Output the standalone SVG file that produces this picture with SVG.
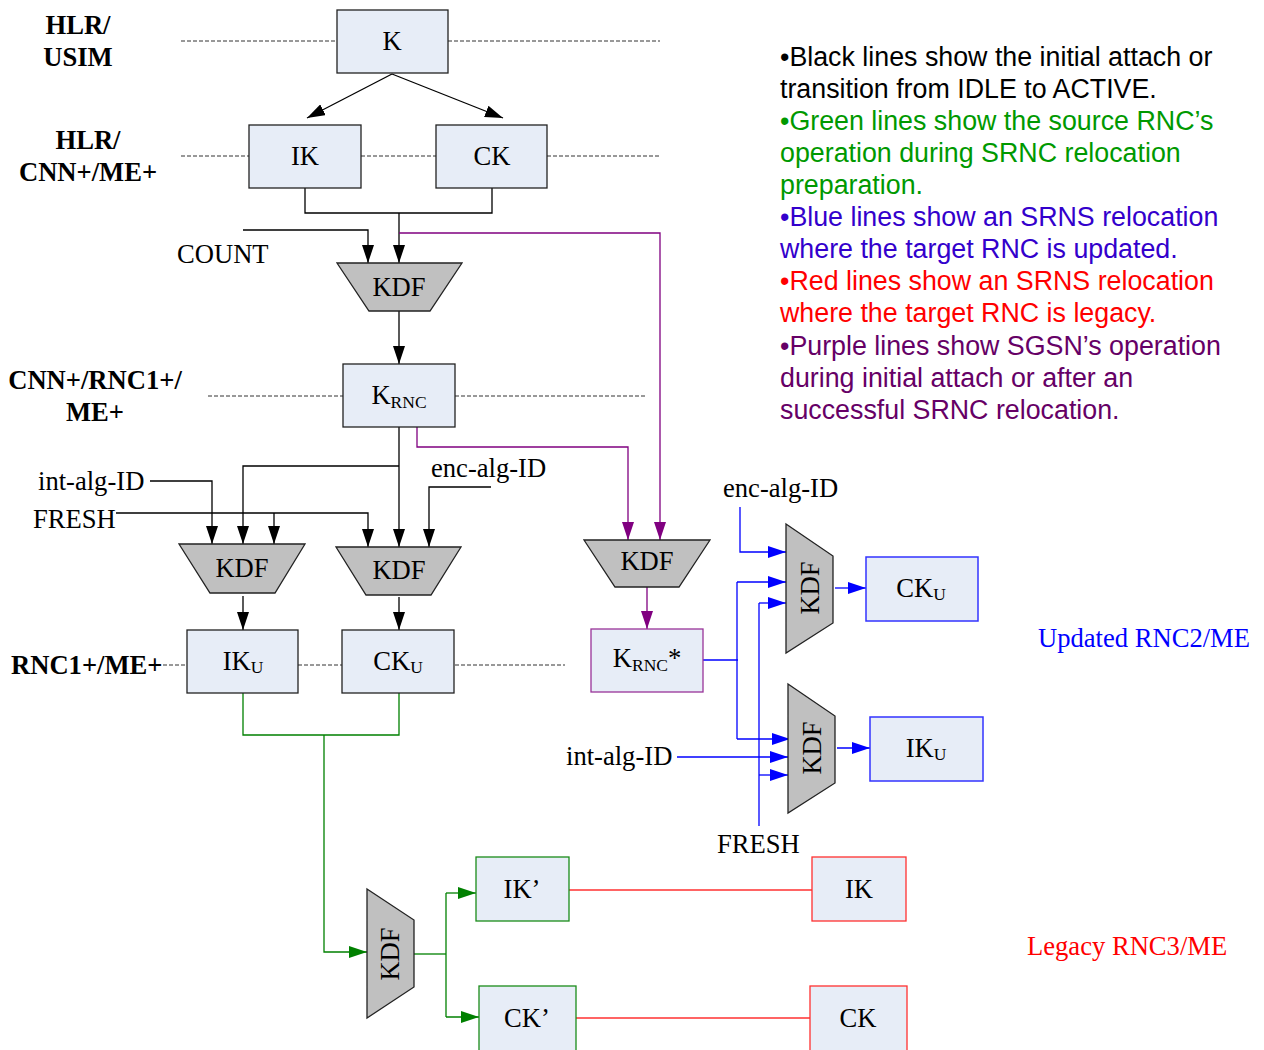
<svg xmlns="http://www.w3.org/2000/svg" width="1264" height="1050" viewBox="0 0 1264 1050">
<style>
.box{fill:#e7edf7;stroke:#222;stroke-width:1.3}
.kdf{fill:#c0c0c0;stroke:#222;stroke-width:1.3}
.t{font-family:"Liberation Serif","Times New Roman",serif;font-size:26.6px;fill:#000}
.tb{font-family:"Liberation Serif","Times New Roman",serif;font-size:26.6px;font-weight:bold;fill:#000}
.lg{font-family:"Liberation Sans",Arial,sans-serif;font-size:26.8px}
.c{text-anchor:middle}
.dash{stroke:#333;stroke-width:1;stroke-dasharray:4,2;fill:none}
.k{stroke:#000;stroke-width:1.3;fill:none}
.p{stroke:#800080;stroke-width:1.3;fill:none}
.bl{stroke:#0000ff;stroke-width:1.3;fill:none}
.g{stroke:#008000;stroke-width:1.3;fill:none}
.r{stroke:#ff3030;stroke-width:1.3;fill:none}
.ak{marker-end:url(#mk)}
.ap{marker-end:url(#mp)}
.ab{marker-end:url(#mb)}
.ag{marker-end:url(#mg)}
</style>
<defs>
<marker id="mk" markerUnits="userSpaceOnUse" markerWidth="18" markerHeight="12" refX="18" refY="6" orient="auto"><path d="M0,0 L18,6 L0,12 z" fill="#000"/></marker>
<marker id="mp" markerUnits="userSpaceOnUse" markerWidth="18" markerHeight="12" refX="18" refY="6" orient="auto"><path d="M0,0 L18,6 L0,12 z" fill="#800080"/></marker>
<marker id="mb" markerUnits="userSpaceOnUse" markerWidth="18" markerHeight="12" refX="18" refY="6" orient="auto"><path d="M0,0 L18,6 L0,12 z" fill="#0000ff"/></marker>
<marker id="mg" markerUnits="userSpaceOnUse" markerWidth="18" markerHeight="12" refX="18" refY="6" orient="auto"><path d="M0,0 L18,6 L0,12 z" fill="#008000"/></marker>
</defs>
<rect width="1264" height="1050" fill="#fff"/>

<g id="layers">
<path class="dash" d="M181,41 H337 M448,41 H660 M181,156 H249 M361,156 H436 M547,156 H660 M208,396 H343 M455,396 H647 M163,665 H187 M298,665 H342 M455,665 H565"/>
<text class="tb c" x="78" y="34">HLR/</text>
<text class="tb c" x="78" y="66">USIM</text>
<text class="tb c" x="88" y="149">HLR/</text>
<text class="tb c" x="88" y="181">CNN+/ME+</text>
<text class="tb c" x="95" y="389">CNN+/RNC1+/</text>
<text class="tb c" x="95" y="421">ME+</text>
<text class="tb" x="11" y="674">RNC1+/ME+</text>
</g>

<g id="connectors">
<line class="k ak" x1="392" y1="74" x2="307" y2="118"/>
<line class="k ak" x1="392" y1="74" x2="503" y2="118"/>
<polyline class="k" points="305,188 305,213 492,213 492,188"/>
<line class="k ak" x1="399" y1="213" x2="399" y2="263"/>
<polyline class="k ak" points="243,230 368,230 368,263"/>
<line class="k ak" x1="399" y1="311" x2="399" y2="364"/>
<line class="k ak" x1="399" y1="427" x2="399" y2="547"/>
<polyline class="k ak" points="399,466 243,466 243,544"/>
<polyline class="k ak" points="150,481 212,481 212,544"/>
<polyline class="k ak" points="116,513 368,513 368,547"/>
<line class="k ak" x1="274" y1="513" x2="274" y2="544"/>
<polyline class="k ak" points="491,487 429,487 429,547"/>
<line class="k ak" x1="243" y1="596" x2="243" y2="630"/>
<line class="k ak" x1="399" y1="597" x2="399" y2="630"/>

<polyline class="p ap" points="399,233 660,233 660,540"/>
<polyline class="p ap" points="417,427 417,447 628,447 628,540"/>
<line class="p ap" x1="647" y1="587" x2="647" y2="629"/>

<line class="bl" x1="703" y1="660" x2="738" y2="660"/>
<line class="bl" x1="737" y1="582" x2="737" y2="739"/>
<line class="bl ab" x1="737" y1="582" x2="786" y2="582"/>
<line class="bl ab" x1="737" y1="739" x2="790" y2="739"/>
<polyline class="bl ab" points="740,507 740,552 786,552"/>
<line class="bl" x1="759" y1="826" x2="759" y2="603"/>
<line class="bl ab" x1="759" y1="603" x2="786" y2="603"/>
<line class="bl ab" x1="759" y1="775" x2="788" y2="775"/>
<line class="bl ab" x1="677" y1="757" x2="788" y2="757"/>
<line class="bl ab" x1="835" y1="588" x2="866" y2="588"/>
<line class="bl ab" x1="837" y1="748" x2="870" y2="748"/>

<polyline class="g" points="243,693 243,735 399,735 399,693"/>
<polyline class="g ag" points="324,735 324,952 367,952"/>
<line class="g" x1="414" y1="954" x2="446" y2="954"/>
<line class="g" x1="446" y1="893" x2="446" y2="1017"/>
<line class="g ag" x1="446" y1="893" x2="476" y2="893"/>
<line class="g ag" x1="446" y1="1017" x2="479" y2="1017"/>

<line class="r" x1="569" y1="890" x2="812" y2="890"/>
<line class="r" x1="576" y1="1018" x2="810" y2="1018"/>
</g>

<g id="node-K"><rect class="box" x="337" y="10" width="111" height="63"/><text class="t c" x="392" y="50">K</text></g>
<g id="node-IK"><rect class="box" x="249" y="125" width="112" height="63"/><text class="t c" x="305" y="165">IK</text></g>
<g id="node-CK"><rect class="box" x="436" y="125" width="111" height="63"/><text class="t c" x="492" y="165">CK</text></g>
<g id="label-COUNT"><text class="t" x="177" y="263">COUNT</text></g>
<g id="node-KDF1"><polygon class="kdf" points="337,263 462,263 430,311 369,311"/><text class="t c" x="399" y="296">KDF</text></g>
<g id="node-KRNC"><rect class="box" x="343" y="364" width="112" height="63"/><text class="t c" x="399" y="404">K<tspan font-size="17.5" dy="4">RNC</tspan></text></g>
<g id="label-int1"><text class="t" x="38" y="490">int-alg-ID</text></g>
<g id="label-fresh1"><text class="t" x="33" y="528">FRESH</text></g>
<g id="label-enc1"><text class="t" x="431" y="477">enc-alg-ID</text></g>
<g id="node-KDF2"><polygon class="kdf" points="179,544 305,544 275,593 210,593"/><text class="t c" x="242" y="577">KDF</text></g>
<g id="node-KDF3"><polygon class="kdf" points="336,547 461,547 431,595 366,595"/><text class="t c" x="399" y="579">KDF</text></g>
<g id="node-IKU"><rect class="box" x="187" y="630" width="111" height="63"/><text class="t c" x="243" y="670">IK<tspan font-size="17.5" dy="3">U</tspan></text></g>
<g id="node-CKU"><rect class="box" x="342" y="630" width="112" height="63"/><text class="t c" x="398" y="670">CK<tspan font-size="17.5" dy="3">U</tspan></text></g>
<g id="node-KDF4"><polygon class="kdf" points="584,540 710,540 679,587 615,587"/><text class="t c" x="647" y="570">KDF</text></g>
<g id="node-KRNCstar"><rect class="box" x="591" y="629" width="112" height="63" style="stroke:#993399"/><text class="t c" x="647" y="667">K<tspan font-size="17.5" dy="4">RNC</tspan><tspan dy="-4">*</tspan></text></g>
<g id="label-enc2"><text class="t" x="723" y="497">enc-alg-ID</text></g>
<g id="label-int2"><text class="t" x="566" y="765">int-alg-ID</text></g>
<g id="label-fresh2"><text class="t" x="717" y="853">FRESH</text></g>
<g id="node-KDF5"><polygon class="kdf" points="786,524 833,556 833,623 786,653"/><text class="t c" transform="translate(810,588) rotate(-90)" x="0" y="9">KDF</text></g>
<g id="node-KDF6"><polygon class="kdf" points="788,684 835,716 835,783 788,813"/><text class="t c" transform="translate(812,748) rotate(-90)" x="0" y="9">KDF</text></g>
<g id="node-CKU2"><rect class="box" x="866" y="557" width="112" height="64" style="stroke:#3333ff;stroke-width:1.5"/><text class="t c" x="921" y="597">CK<tspan font-size="17.5" dy="3">U</tspan></text></g>
<g id="node-IKU2"><rect class="box" x="870" y="717" width="113" height="64" style="stroke:#3333ff;stroke-width:1.5"/><text class="t c" x="926" y="757">IK<tspan font-size="17.5" dy="3">U</tspan></text></g>
<g id="label-updated"><text class="t" x="1038" y="647" style="fill:#0000ff">Updated RNC2/ME</text></g>
<g id="node-KDF7"><polygon class="kdf" points="367,889 414,920 414,987 367,1018"/><text class="t c" transform="translate(390,954) rotate(-90)" x="0" y="9">KDF</text></g>
<g id="node-IKp"><rect class="box" x="476" y="857" width="93" height="64" style="stroke:#1a8c1a"/><text class="t c" x="522" y="898">IK’</text></g>
<g id="node-CKp"><rect class="box" x="479" y="986" width="97" height="70" style="stroke:#1a8c1a"/><text class="t c" x="527" y="1027">CK’</text></g>
<g id="node-IKr"><rect class="box" x="812" y="857" width="94" height="64" style="stroke:#ff3030"/><text class="t c" x="859" y="898">IK</text></g>
<g id="node-CKr"><rect class="box" x="810" y="986" width="97" height="70" style="stroke:#ff3030"/><text class="t c" x="858" y="1027">CK</text></g>
<g id="label-legacy"><text class="t" x="1027" y="955" style="fill:#ff0000">Legacy RNC3/ME</text></g>

<g id="legend" class="lg">
<text x="780" y="66" fill="#000">•Black lines show the initial attach or</text>
<text x="780" y="98" fill="#000">transition from IDLE to ACTIVE.</text>
<text x="780" y="130" fill="#009900">•Green lines show the source RNC’s</text>
<text x="780" y="162" fill="#009900">operation during SRNC relocation</text>
<text x="780" y="194" fill="#009900">preparation.</text>
<text x="780" y="226" fill="#3300cc">•Blue lines show an SRNS relocation</text>
<text x="780" y="258" fill="#3300cc">where the target RNC is updated.</text>
<text x="780" y="290" fill="#ff0000">•Red lines show an SRNS relocation</text>
<text x="780" y="322" fill="#ff0000">where the target RNC is legacy.</text>
<text x="780" y="355" fill="#660066">•Purple lines show SGSN’s operation</text>
<text x="780" y="387" fill="#660066">during initial attach or after an</text>
<text x="780" y="419" fill="#660066">successful SRNC relocation.</text>
</g>
</svg>
